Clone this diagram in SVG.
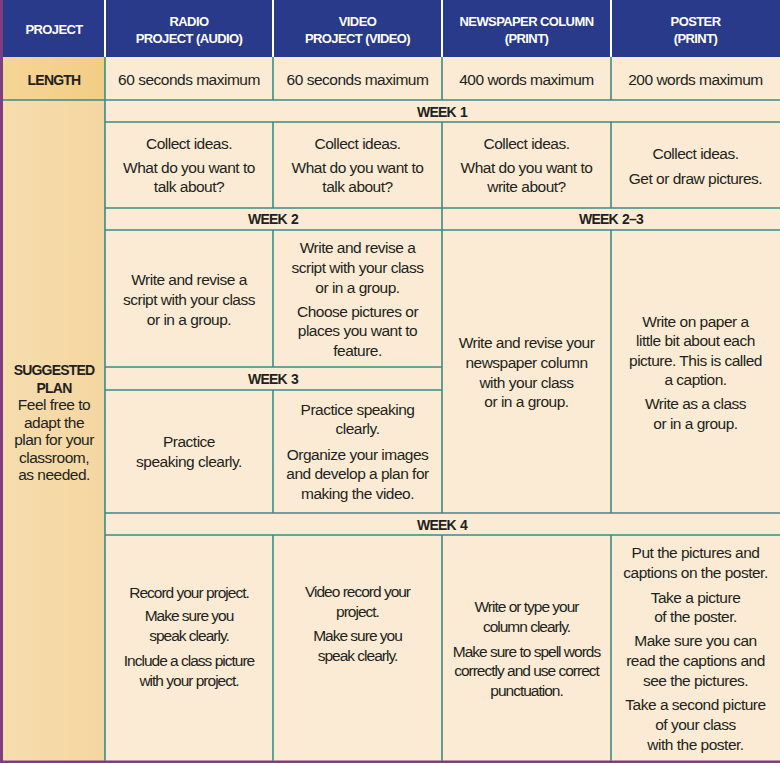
<svg xmlns="http://www.w3.org/2000/svg" width="780" height="763" viewBox="0 0 780 763">
<defs>
<linearGradient id="leftg" x1="0" y1="0" x2="1" y2="0">
<stop offset="0" stop-color="#F6DDAE"/>
<stop offset="1" stop-color="#F4D6A0"/>
</linearGradient>
<linearGradient id="leng" x1="0" y1="0" x2="1" y2="0">
<stop offset="0" stop-color="#F5D596"/>
<stop offset="1" stop-color="#F2CD85"/>
</linearGradient>
</defs>
<style>
.hd{font-family:"Liberation Sans",Arial,sans-serif;font-weight:bold;font-size:13px;letter-spacing:-0.6px;fill:#FFFFFF;text-anchor:middle}
.t{font-family:"Liberation Sans",Arial,sans-serif;font-size:15.5px;letter-spacing:-0.5px;fill:#231F20;text-anchor:middle}
.tc{font-family:"Liberation Sans",Arial,sans-serif;font-size:15.5px;letter-spacing:-1px;fill:#231F20;text-anchor:middle}
.b{font-family:"Liberation Sans",Arial,sans-serif;font-weight:bold;font-size:14px;letter-spacing:-0.8px;word-spacing:1px;fill:#231F20;text-anchor:middle}
.ln{stroke:#3E8A84;stroke-width:1.6;fill:none}
.wl{stroke:#FFFFFF;stroke-width:2;fill:none}
</style>
<g id="background">
<rect x="0" y="0" width="780" height="763" fill="#FBEBD4"/>
<rect x="0" y="0" width="780" height="57" fill="#2A3A8B"/>
<rect x="3" y="57" width="102" height="704" fill="url(#leftg)"/>
<rect x="3" y="57" width="102" height="43" fill="url(#leng)"/>
<rect x="0" y="0" width="3" height="763" fill="#7C3E7E"/>
<rect x="0" y="760.5" width="780" height="2.5" fill="#7C3E7E"/>
</g>
<g id="connectors">
<path class="wl" d="M105,0V57M273,0V57M442,0V57M611,0V57"/>
<path class="ln" d="M3,100H780M105,122H780M105,208H780M105,230H780M105,367H442M105,390H442M105,513H780M105,535H780"/>
<path class="ln" d="M105,57V761M273,57V100M273,122V208M273,230V367M273,390V513M273,535V761M442,57V100M442,122V513M442,535V761M611,57V100M611,122V208M611,230V513M611,535V761"/>
</g>
<g id="header">
<text class="hd" x="54" y="34">PROJECT</text>
<text class="hd" x="189" y="26">RADIO</text>
<text class="hd" x="189" y="43">PROJECT (AUDIO)</text>
<text class="hd" x="357.5" y="26">VIDEO</text>
<text class="hd" x="357.5" y="43">PROJECT (VIDEO)</text>
<text class="hd" x="526.5" y="26">NEWSPAPER COLUMN</text>
<text class="hd" x="526.5" y="43">(PRINT)</text>
<text class="hd" x="695.5" y="26">POSTER</text>
<text class="hd" x="695.5" y="43">(PRINT)</text>
</g>
<g id="length-row">
<text class="b" x="54" y="85">LENGTH</text>
<text class="t" x="189" y="85">60 seconds maximum</text>
<text class="t" x="357.5" y="85">60 seconds maximum</text>
<text class="t" x="526.5" y="85">400 words maximum</text>
<text class="t" x="695.5" y="85">200 words maximum</text>
</g>
<g id="plan-label">
<text class="b" x="54" y="375">SUGGESTED</text>
<text class="b" x="54" y="393">PLAN</text>
<text class="t" x="54" y="410">Feel free to</text>
<text class="t" x="54" y="428">adapt the</text>
<text class="t" x="54" y="445">plan for your</text>
<text class="t" x="54" y="463">classroom,</text>
<text class="t" x="54" y="480">as needed.</text>
</g>
<g id="week-labels">
<text class="b" x="442" y="117">WEEK 1</text>
<text class="b" x="273" y="224">WEEK 2</text>
<text class="b" x="611" y="224">WEEK 2–3</text>
<text class="b" x="273" y="384">WEEK 3</text>
<text class="b" x="442" y="530">WEEK 4</text>
</g>
<g id="week1">
<text class="t" x="189" y="149">Collect ideas.</text>
<text class="t" x="189" y="173">What do you want to</text>
<text class="t" x="189" y="192">talk about?</text>
<text class="t" x="357.5" y="149">Collect ideas.</text>
<text class="t" x="357.5" y="173">What do you want to</text>
<text class="t" x="357.5" y="192">talk about?</text>
<text class="t" x="526.5" y="149">Collect ideas.</text>
<text class="t" x="526.5" y="173">What do you want to</text>
<text class="t" x="526.5" y="192">write about?</text>
<text class="t" x="695.5" y="159">Collect ideas.</text>
<text class="t" x="695.5" y="184">Get or draw pictures.</text>
</g>
<g id="week2">
<text class="t" x="189" y="285">Write and revise a</text>
<text class="t" x="189" y="305">script with your class</text>
<text class="t" x="189" y="325">or in a group.</text>
<text class="t" x="357.5" y="253">Write and revise a</text>
<text class="t" x="357.5" y="273">script with your class</text>
<text class="t" x="357.5" y="293">or in a group.</text>
<text class="t" x="357.5" y="317">Choose pictures or</text>
<text class="t" x="357.5" y="336">places you want to</text>
<text class="t" x="357.5" y="356">feature.</text>
</g>
<g id="week2-3">
<text class="t" x="526.5" y="348">Write and revise your</text>
<text class="t" x="526.5" y="368">newspaper column</text>
<text class="t" x="526.5" y="388">with your class</text>
<text class="t" x="526.5" y="407">or in a group.</text>
<text class="t" x="695.5" y="327">Write on paper a</text>
<text class="t" x="695.5" y="346">little bit about each</text>
<text class="t" x="695.5" y="366">picture. This is called</text>
<text class="t" x="695.5" y="385">a caption.</text>
<text class="t" x="695.5" y="409">Write as a class</text>
<text class="t" x="695.5" y="429">or in a group.</text>
</g>
<g id="week3">
<text class="t" x="189" y="447">Practice</text>
<text class="t" x="189" y="467">speaking clearly.</text>
<text class="t" x="357.5" y="415">Practice speaking</text>
<text class="t" x="357.5" y="434">clearly.</text>
<text class="t" x="357.5" y="460">Organize your images</text>
<text class="t" x="357.5" y="479">and develop a plan for</text>
<text class="t" x="357.5" y="499">making the video.</text>
</g>
<g id="week4">
<text class="tc" x="189" y="598">Record your project.</text>
<text class="tc" x="189" y="621">Make sure you</text>
<text class="tc" x="189" y="641">speak clearly.</text>
<text class="tc" x="189" y="666">Include a class picture</text>
<text class="tc" x="189" y="686">with your project.</text>
<text class="tc" x="357.5" y="597">Video record your</text>
<text class="tc" x="357.5" y="617">project.</text>
<text class="tc" x="357.5" y="641">Make sure you</text>
<text class="tc" x="357.5" y="661">speak clearly.</text>
<text class="tc" x="526.5" y="612">Write or type your</text>
<text class="tc" x="526.5" y="632">column clearly.</text>
<text class="tc" x="526.5" y="657">Make sure to spell words</text>
<text class="tc" x="526.5" y="676">correctly and use correct</text>
<text class="tc" x="526.5" y="696">punctuation.</text>
<text class="t" x="695.5" y="558">Put the pictures and</text>
<text class="t" x="695.5" y="578">captions on the poster.</text>
<text class="t" x="695.5" y="603">Take a picture</text>
<text class="t" x="695.5" y="622">of the poster.</text>
<text class="t" x="695.5" y="646">Make sure you can</text>
<text class="t" x="695.5" y="666">read the captions and</text>
<text class="t" x="695.5" y="686">see the pictures.</text>
<text class="t" x="695.5" y="710">Take a second picture</text>
<text class="t" x="695.5" y="730">of your class</text>
<text class="t" x="695.5" y="750">with the poster.</text>
</g>
</svg>
